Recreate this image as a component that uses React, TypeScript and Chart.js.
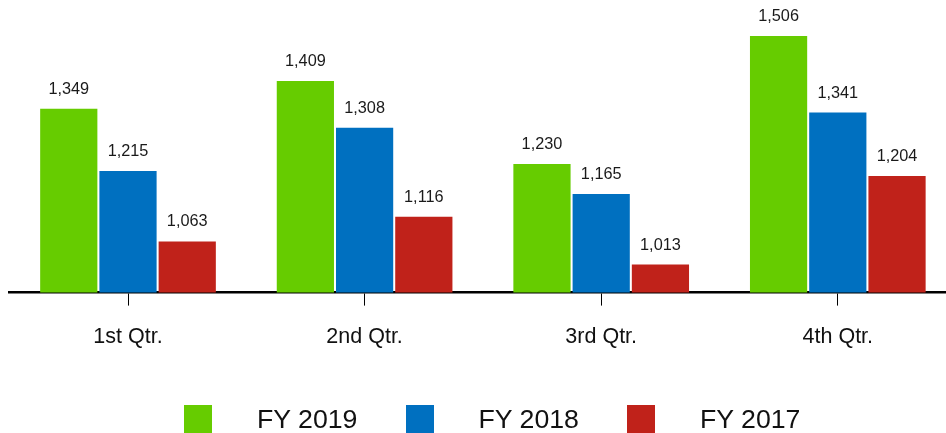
import React, { useEffect, useRef } from "react";
import { Chart, registerables } from "chart.js";

Chart.register(...registerables);

const categories = ["1st Qtr.", "2nd Qtr.", "3rd Qtr.", "4th Qtr."];
const seriesNames = ["FY 2019", "FY 2018", "FY 2017"];
const fy2019 = [1349, 1409, 1230, 1506];
const fy2018 = [1215, 1308, 1165, 1341];
const fy2017 = [1063, 1116, 1013, 1204];
const seriesColors = ["#66CC00", "#0070C0", "#C0221A"];
const yMin = 952.5;
const yMax = 1560;

const FONT = "'Liberation Sans', Arial, sans-serif";

const valueLabels = {
  id: "valueLabels",
  afterDatasetsDraw(chart: any) {
    const ctx = chart.ctx;
    ctx.save();
    ctx.font = `16.3px ${FONT}`;
    ctx.fillStyle = "#1a1a1a";
    ctx.textAlign = "center";
    ctx.textBaseline = "middle";
    chart.data.datasets.forEach((ds: any, di: number) => {
      const meta = chart.getDatasetMeta(di);
      meta.data.forEach((el: any, i: number) => {
        const v = ds.data[i] as number;
        ctx.fillText(v.toLocaleString("en-US"), el.x, el.y - 19.5);
      });
    });
    ctx.restore();
  },
};

export default function App() {
  const ref = useRef<HTMLCanvasElement | null>(null);

  useEffect(() => {
    if (!ref.current) return;
    const values = [fy2019, fy2018, fy2017];
    const chart = new Chart(ref.current, {
      type: "bar",
      data: {
        labels: categories,
        datasets: seriesNames.map((name, i) => ({
          label: name,
          data: values[i],
          backgroundColor: seriesColors[i],
          borderWidth: 0,
          barPercentage: 0.966,
          categoryPercentage: 0.751,
        })),
      },
      options: {
        responsive: false,
        animation: false,
        devicePixelRatio: 1,
        layout: { padding: { left: 9.7, right: 13.9, top: 11, bottom: 63.6 } },
        plugins: {
          legend: { display: false },
          tooltip: { enabled: false },
        },
        scales: {
          x: {
            offset: true,
            grid: {
              offset: false,
              drawOnChartArea: false,
              drawTicks: true,
              tickLength: 13,
              tickColor: "#000",
              tickWidth: 1,
            },
            border: { display: true, color: "#000", width: 2.5 },
            ticks: {
              color: "#111",
              font: { family: FONT, size: 21.5 },
              padding: 19,
            },
          },
          y: {
            display: false,
            min: yMin,
            max: yMax,
          },
        },
      },
      plugins: [valueLabels],
    });
    return () => chart.destroy();
  }, []);

  return (
    <div
      style={{
        position: "absolute",
        left: 0,
        top: 0,
        width: 946,
        height: 433,
        overflow: "hidden",
        background: "#fff",
      }}
    >
      <canvas ref={ref} width={970} height={433} style={{ display: "block" }} />
      <div
        style={{
          position: "absolute",
          left: 184,
          top: 405,
          display: "flex",
          fontFamily: FONT,
          fontSize: 26.7,
          color: "#111",
        }}
      >
        {seriesNames.map((name, i) => (
          <div
            key={name}
            style={{ width: 221.5, display: "flex", alignItems: "center", height: 28 }}
          >
            <span
              style={{
                display: "inline-block",
                width: 28,
                height: 28,
                background: seriesColors[i],
                marginRight: 45,
                flex: "none",
              }}
            />
            <span style={{ lineHeight: "28px", whiteSpace: "nowrap" }}>{name}</span>
          </div>
        ))}
      </div>
    </div>
  );
}
